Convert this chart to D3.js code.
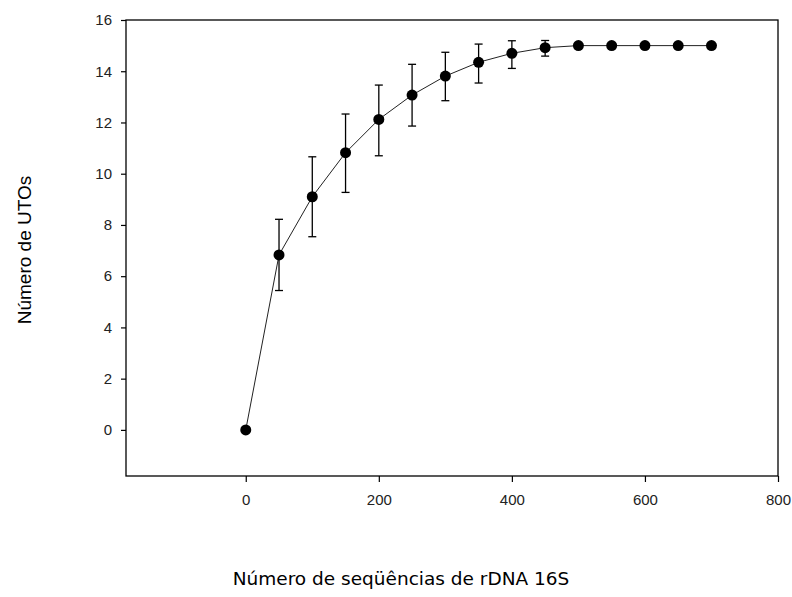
<!DOCTYPE html>
<html>
<head>
<meta charset="utf-8">
<script src="https://cdn.jsdelivr.net/npm/d3@7"></script>
<style>
  body { margin: 0; background: #fff; }
  .tick text { font-family: "Liberation Sans", Arial, sans-serif; font-size: 15px; fill: #222; }
</style>
</head>
<body>
<svg id="chart" width="792" height="597"></svg>
<script>
// sequences sampled
const sequences = [0, 50, 100, 150, 200, 250, 300, 350, 400, 450, 500, 550, 600, 650, 700];
// mean number of OTUs
const otus = [0, 6.83, 9.10, 10.82, 12.12, 13.07, 13.81, 14.35, 14.70, 14.92, 15.0, 15.0, 15.0, 15.0, 15.0];
// error bar upper / lower limits
const errHigh = [0, 8.22, 10.66, 12.33, 13.46, 14.27, 14.74, 15.06, 15.19, 15.2, 15.0, 15.0, 15.0, 15.0, 15.0];
const errLow = [0, 5.44, 7.54, 9.27, 10.70, 11.86, 12.85, 13.54, 14.11, 14.59, 15.0, 15.0, 15.0, 15.0, 15.0];

const xTicks = [0, 200, 400, 600, 800];
const yTicks = [0, 2, 4, 6, 8, 10, 12, 14, 16];

const margin = { top: 20, right: 14, bottom: 121, left: 126 };
const W = 792 - margin.left - margin.right;
const H = 597 - margin.top - margin.bottom;

const svg = d3.select('#chart');
const g = svg.append('g')
    .attr('transform', 'translate(' + margin.left + ',' + margin.top + ')');

const x = d3.scaleLinear().domain([-180, 800]).range([0, W]);
const y = d3.scaleLinear().domain([-1.8, 16]).range([H, 0]);

const points = sequences.map((s, i) => ({ s: s, v: otus[i], hi: errHigh[i], lo: errLow[i] }));

// box
g.append('rect')
    .attr('width', W).attr('height', H)
    .attr('fill', 'none').attr('stroke', '#000').attr('stroke-width', 1.3);

g.append('g')
    .attr('class', 'axis')
    .attr('transform', 'translate(0,' + H + ')')
    .call(d3.axisBottom(x).tickValues(xTicks).tickSize(6).tickPadding(12).tickFormat(d3.format('d')))
    .call(a => a.select('.domain').remove());

g.append('g')
    .attr('class', 'axis')
    .call(d3.axisLeft(y).tickValues(yTicks).tickSize(5).tickPadding(9).tickFormat(d3.format('d')))
    .call(a => a.select('.domain').remove());

g.selectAll('.axis .tick line').attr('stroke', '#000').attr('stroke-width', 1.2);

// line through the means
const line = d3.line()
    .x(d => x(d.s))
    .y(d => y(d.v));

g.append('path')
    .datum(points)
    .attr('d', line)
    .attr('fill', 'none')
    .attr('stroke', '#222')
    .attr('stroke-width', 1);

// error bars
const eb = g.selectAll('.err')
    .data(points.filter(d => d.hi - d.lo > 0.01))
    .enter().append('g')
    .attr('class', 'err')
    .attr('stroke', '#000')
    .attr('stroke-width', 1.3);

eb.append('line')
    .attr('x1', d => x(d.s)).attr('x2', d => x(d.s))
    .attr('y1', d => y(d.hi)).attr('y2', d => y(d.lo));
eb.append('line')
    .attr('x1', d => x(d.s) - 4).attr('x2', d => x(d.s) + 4)
    .attr('y1', d => y(d.hi)).attr('y2', d => y(d.hi));
eb.append('line')
    .attr('x1', d => x(d.s) - 4).attr('x2', d => x(d.s) + 4)
    .attr('y1', d => y(d.lo)).attr('y2', d => y(d.lo));

g.selectAll('.pt')
    .data(points)
    .enter().append('circle')
    .attr('class', 'pt')
    .attr('cx', d => x(d.s))
    .attr('cy', d => y(d.v))
    .attr('r', 5.5)
    .attr('fill', '#000');

// titles
svg.append('text')
    .attr('transform', 'translate(31,250) rotate(-90)')
    .attr('text-anchor', 'middle')
    .style('font-family', '"Liberation Sans", Arial, sans-serif')
    .style('font-size', '19px')
    .text('Número de UTOs');

svg.append('text')
    .attr('x', 401)
    .attr('y', 585)
    .attr('text-anchor', 'middle')
    .style('font-family', '"DejaVu Sans", Tahoma, sans-serif')
    .style('font-size', '18.5px')
    .text('Número de seqüências de rDNA 16S');
</script>
</body>
</html>
